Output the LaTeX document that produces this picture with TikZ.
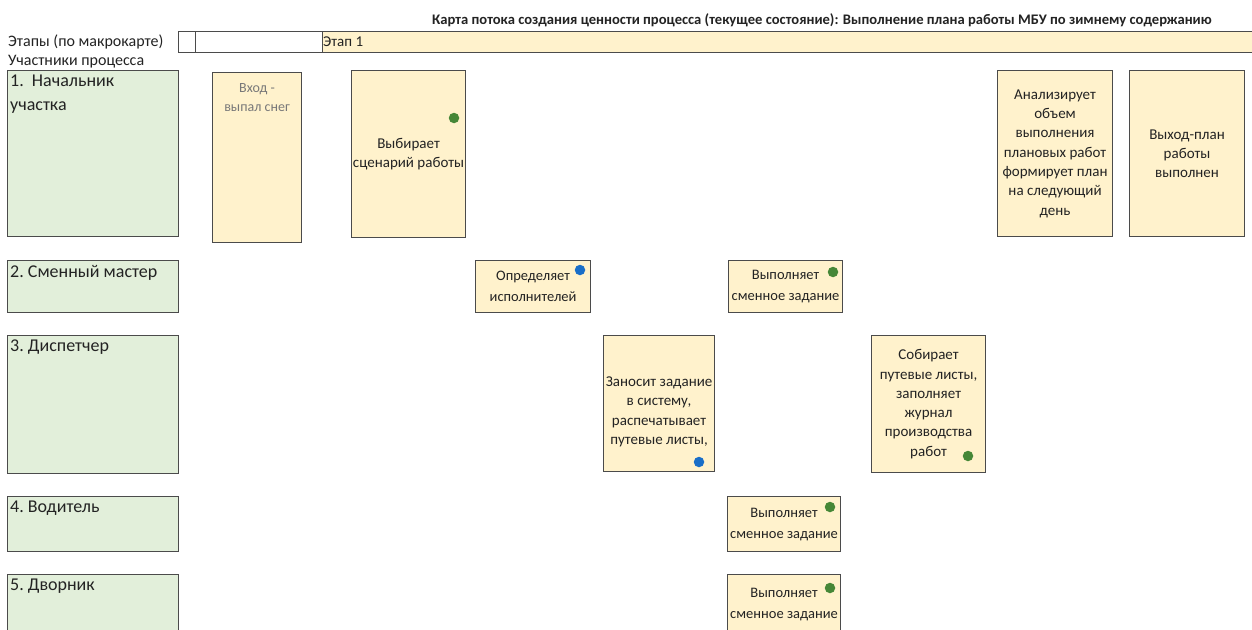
\documentclass[tikz,border=0pt]{standalone}
\usepackage{fontspec}
\setmainfont{Carlito}
\usetikzlibrary{positioning}
\definecolor{Lane}{RGB}{226,239,218}
\definecolor{Step}{RGB}{255,242,204}
\definecolor{Edge}{RGB}{75,75,75}
\definecolor{Ink}{RGB}{35,35,35}
\definecolor{Fade}{RGB}{120,120,120}
\definecolor{DotG}{RGB}{70,135,55}
\definecolor{DotB}{RGB}{25,110,200}
\tikzset{
  lbase/.style={draw=Edge,line width=1.1pt,anchor=north west,inner sep=0pt},
  flane/.style={lbase,fill=Lane,minimum width=171pt},
  ltxt/.style={anchor=north west,align=left,inner sep=3pt,yshift=-2pt,text=Ink,font=\fontsize{18}{24}\selectfont},
  fstep/.style={lbase,fill=Step,align=center,text=Ink,font=\fontsize{15}{19.3}\selectfont},
  fsmall/.style={fstep,font=\fontsize{14.5}{21}\selectfont},
  fstage/.style={lbase,minimum height=21pt},
  fdot/.style={circle,inner sep=0pt,minimum size=10.5pt},
  gdot/.style={fdot,fill=DotG},
  bdot/.style={fdot,fill=DotB},
  fhead/.style={anchor=base west,inner sep=0pt,text=Ink,font=\fontsize{16}{18}\selectfont}
}

\begin{document}
\begin{tikzpicture}[x=1pt,y=-1pt]
\useasboundingbox[fill=white] (0,0) rectangle (1252,629);
% header
\node[fhead,font=\bfseries\fontsize{14.6}{16}\selectfont] (title) at (432,24) {Карта потока создания ценности процесса (текущее состояние): Выполнение плана работы МБУ по зимнему содержанию};
\node[fhead] (stages) at (8,46) {Этапы (по макрокарте)};
\node[fhead] (actors) at (8,65) {Участники процесса};
\node[fstage,fill=white,minimum width=17pt] (st0) at (178,31) {};
\node[fstage,fill=white,minimum width=127pt] (st1) at (195,31) {};
\node[fstage,fill=Step,minimum width=940pt,label={[fhead,anchor=west,xshift=1pt,font=\fontsize{15}{17}\selectfont]west:Этап 1}] (st2) at (322,31) {};
% lanes
\node[flane,minimum height=166pt,label={[ltxt]north west:1.~~Начальник\\участка}] (boss) at (7,70) {};
\node[flane,minimum height=52pt,label={[ltxt]north west:2.~Сменный мастер}] (master) at (7,260) {};
\node[flane,minimum height=138pt,label={[ltxt]north west:3.~Диспетчер}] (disp) at (7,335) {};
\node[flane,minimum height=55pt,label={[ltxt]north west:4.~Водитель}] (driver) at (7,496) {};
\node[flane,minimum height=70pt,label={[ltxt]north west:5.~Дворник}] (janitor) at (7,574) {};
% steps
\node[fstep,minimum width=89pt,minimum height=170pt,label={[align=center,anchor=north,yshift=-8pt,text=Fade,font=\fontsize{14}{19}\selectfont]north:Вход -\\выпал снег}] (snow) at (212,72) {};
\node[fstep,minimum width=114pt,minimum height=167pt] (choose) at (351,70) {Выбирает\\сценарий работы};
\node[fstep,minimum width=115pt,minimum height=166pt] (analyse) at (997,70) {Анализирует\\объем\\выполнения\\плановых работ\\формирует план\\на следующий\\день};
\node[fstep,minimum width=115pt,minimum height=166pt] (done) at (1129,70) {Выход-план\\работы\\выполнен};
\node[fsmall,minimum width=115pt,minimum height=52pt] (assign) at (475,260) {Определяет\\исполнителей};
\node[fsmall,minimum width=114pt,minimum height=52pt] (shift2) at (728,260) {Выполняет\\сменное задание};
\node[fstep,minimum width=111pt,minimum height=136pt] (enter) at (603,335) {\mbox{}\\[7pt]Заносит задание\\в систему,\\распечатывает\\путевые листы,};
\node[fstep,minimum width=114pt,minimum height=137pt] (collect) at (871,335) {Собирает\\путевые листы,\\заполняет\\журнал\\производства\\работ};
\node[fsmall,minimum width=113pt,minimum height=55pt] (shift4) at (727,496) {Выполняет\\сменное задание};
\node[fsmall,minimum width=113pt,minimum height=60pt] (shift5) at (727,574) {Выполняет\\сменное задание};
% marks
\node[gdot] (m1) at (454,118) {};
\node[bdot] (m2) at (580,270) {};
\node[gdot] (m3) at (833,272) {};
\node[bdot] (m4) at (699,462) {};
\node[gdot] (m5) at (968,456) {};
\node[gdot] (m6) at (830,507) {};
\node[gdot] (m7) at (830,588) {};
\end{tikzpicture}
\end{document}
